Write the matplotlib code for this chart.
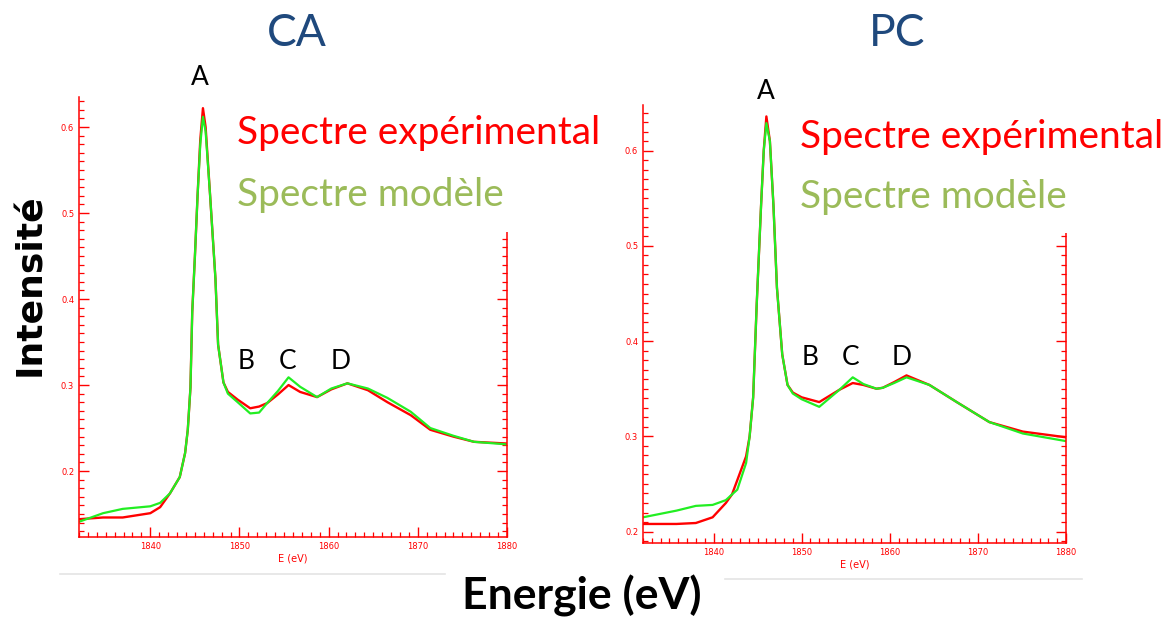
import numpy as np
import matplotlib.pyplot as plt
from matplotlib.patches import Rectangle
from matplotlib.lines import Line2D
from matplotlib.ticker import MultipleLocator


# --- CA spectrum ---
E_ca = [1832.0, 1834.7, 1836.9, 1840.0, 1841.1, 1842.2, 1843.3, 1843.9, 1844.2,
        1844.5, 1844.7, 1845.0, 1845.3, 1845.6, 1845.9, 1846.2, 1846.7, 1847.3,
        1847.6, 1848.2, 1848.7, 1849.8, 1851.2, 1852.2, 1853.1, 1854.3, 1855.5,
        1856.8, 1858.7, 1860.3, 1862.1, 1864.4, 1866.6, 1869.2, 1871.4, 1874.0,
        1876.3, 1880.0]
exp_ca = [0.144, 0.146, 0.146, 0.151, 0.158, 0.174, 0.193, 0.221, 0.248,
          0.297, 0.385, 0.450, 0.521, 0.585, 0.622, 0.600, 0.521, 0.424,
          0.347, 0.303, 0.292, 0.283, 0.273, 0.275, 0.279, 0.289, 0.300,
          0.292, 0.286, 0.295, 0.302, 0.294, 0.280, 0.265, 0.248, 0.240,
          0.234, 0.232]
mod_ca = [0.141, 0.151, 0.156, 0.159, 0.163, 0.174, 0.193, 0.221, 0.248,
          0.297, 0.385, 0.450, 0.521, 0.580, 0.612, 0.595, 0.521, 0.424,
          0.347, 0.303, 0.290, 0.280, 0.267, 0.268, 0.279, 0.293, 0.309,
          0.298, 0.286, 0.296, 0.302, 0.296, 0.285, 0.269, 0.250, 0.241,
          0.234, 0.231]

# --- PC spectrum ---
E_pc = [1832.0, 1835.8, 1838.0, 1839.9, 1841.4, 1842.1, 1842.7, 1843.7, 1844.1,
        1844.5, 1844.9, 1845.4, 1845.7, 1846.0, 1846.4, 1846.8, 1847.2, 1847.8,
        1848.4, 1849.0, 1850.0, 1852.0, 1854.3, 1855.8, 1857.0, 1858.5, 1859.2,
        1860.5, 1861.9, 1864.5, 1867.6, 1871.3, 1875.1, 1880.0]
exp_pc = [0.208, 0.208, 0.209, 0.215, 0.230, 0.239, 0.254, 0.279, 0.300,
          0.341, 0.438, 0.543, 0.600, 0.636, 0.610, 0.543, 0.456, 0.386,
          0.354, 0.346, 0.341, 0.336, 0.349, 0.356, 0.354, 0.350, 0.351,
          0.357, 0.364, 0.354, 0.336, 0.315, 0.305, 0.299]
mod_pc = [0.215, 0.222, 0.227, 0.228, 0.233, 0.239, 0.244, 0.272, 0.300,
          0.341, 0.438, 0.543, 0.600, 0.629, 0.610, 0.543, 0.456, 0.386,
          0.354, 0.345, 0.339, 0.331, 0.349, 0.362, 0.355, 0.350, 0.351,
          0.356, 0.362, 0.354, 0.336, 0.315, 0.303, 0.295]

# peak letters: (label, energy, intensity)
peaks_ca = [("A", 1845.6, 0.658), ("B", 1850.7, 0.327), ("C", 1855.4, 0.327), ("D", 1861.3, 0.327)]
peaks_pc = [("A", 1845.9, 0.662), ("B", 1851.0, 0.383), ("C", 1855.6, 0.383), ("D", 1861.3, 0.383)]

titles = ["CA", "PC"]
leg_exp = "Spectre expérimental"
leg_mod = "Spectre modèle"

RED = "#ff0000"
GREEN = "#22ee22"
LEG_GREEN = "#9bbb59"
TITLE_BLUE = "#1f497d"
SANS = ["Lato", "DejaVu Sans"]

W, H = 1166, 617
def fx(px): return px / W
def fy(py): return 1 - py / H

fig = plt.figure(figsize=(11.66, 6.17), dpi=100)

ax_ca = fig.add_axes([fx(79), fy(537), fx(507) - fx(79), fy(97) - fy(537)])
ax_pc = fig.add_axes([fx(643), fy(543), fx(1066) - fx(643), fy(105) - fy(543)])

setups = [
    (ax_ca, E_ca, exp_ca, mod_ca, (0.1233, 0.635), peaks_ca),
    (ax_pc, E_pc, exp_pc, mod_pc, (0.188, 0.648), peaks_pc),
]

for ax, E, yexp, ymod, ylim, peaks in setups:
    ax.plot(E, yexp, color=RED, lw=1.7)
    ax.plot(E, ymod, color=GREEN, lw=1.6)

    ax.set_xlim(1832, 1880)
    ax.set_ylim(*ylim)
    ax.xaxis.set_major_locator(MultipleLocator(10))
    ax.xaxis.set_minor_locator(MultipleLocator(1))
    ax.yaxis.set_major_locator(MultipleLocator(0.1))
    ax.yaxis.set_minor_locator(MultipleLocator(0.01))
    ax.yaxis.set_major_formatter(lambda v, p: f"{v:.1f}")

    for side in ["left", "bottom", "right"]:
        ax.spines[side].set_color(RED)
        ax.spines[side].set_linewidth(1.1)
    ax.spines["top"].set_visible(False)

    ax.tick_params(which="both", direction="in", color=RED, labelcolor=RED,
                   left=True, right=True, bottom=True, top=False, labelsize=6)
    ax.tick_params(which="major", length=7.5, width=1)
    ax.tick_params(which="minor", length=3.5, width=0.9)
    ax.set_xlabel("E (eV)", color=RED, fontsize=7, labelpad=2)

    for lab, xe, yi in peaks:
        ax.text(xe, yi, lab, fontsize=19, family=SANS, color="black",
                ha="center", va="center", clip_on=False)

# white boxes holding the legend text, as in the slide
fig.patches.append(Rectangle((fx(230), fy(232)), fx(608) - fx(230), fy(95) - fy(232),
                             transform=fig.transFigure, facecolor="white",
                             edgecolor="none", zorder=3))
fig.patches.append(Rectangle((fx(792), fy(233)), fx(1166) - fx(792), fy(100) - fy(233),
                             transform=fig.transFigure, facecolor="white",
                             edgecolor="none", zorder=3))

# legend texts
fig.text(fx(237), fy(133), leg_exp, color=RED, fontsize=28, family=SANS, va="center", zorder=4)
fig.text(fx(237), fy(195), leg_mod, color=LEG_GREEN, fontsize=28, family=SANS, va="center", zorder=4)
fig.text(fx(800), fy(137), leg_exp, color=RED, fontsize=28, family=SANS, va="center", zorder=4)
fig.text(fx(800), fy(197), leg_mod, color=LEG_GREEN, fontsize=28, family=SANS, va="center", zorder=4)

# titles
fig.text(fx(297), fy(34), titles[0], color=TITLE_BLUE, fontsize=32, family=SANS, ha="center", va="center")
fig.text(fx(897), fy(34), titles[1], color=TITLE_BLUE, fontsize=32, family=SANS, ha="center", va="center")

# shared axis labels
fig.text(fx(30), fy(285), "Intensité", rotation=90, fontsize=26, fontweight="bold",
         family="DejaVu Sans", ha="center", va="center")
fig.text(fx(582), fy(596), "Energie (eV)", fontsize=32, fontweight="bold",
         family=SANS, ha="center", va="center")

# thin grey edges under the pasted plots
fig.lines.append(Line2D([fx(60), fx(445)], [fy(574), fy(574)], transform=fig.transFigure,
                        color="#e4e4e4", lw=1.2))
fig.lines.append(Line2D([fx(725), fx(1082)], [fy(579), fy(579)], transform=fig.transFigure,
                        color="#e4e4e4", lw=1.2))

fig.savefig("out.png", dpi=100)
